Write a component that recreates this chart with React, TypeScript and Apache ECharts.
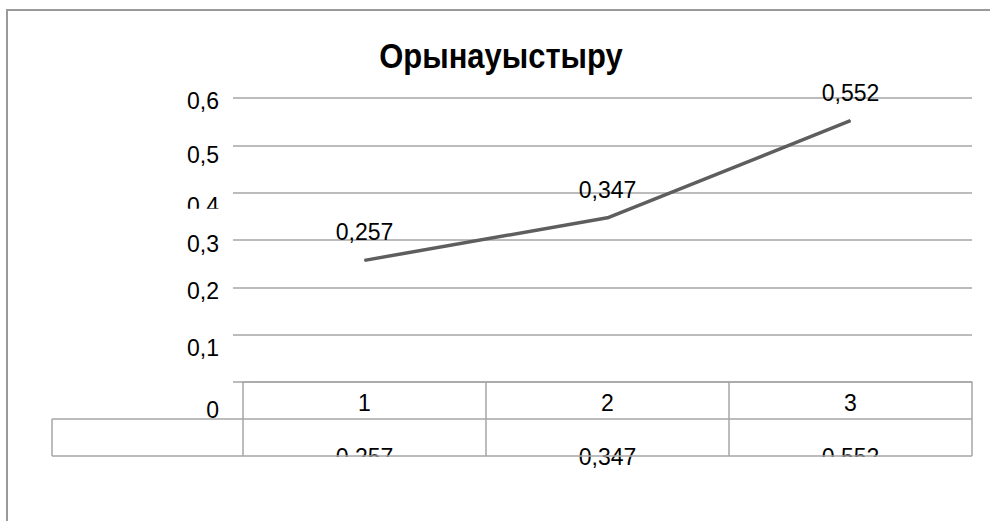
import React, { useEffect, useRef } from "react";
import * as echarts from "echarts";

const title = "Орынауыстыру";
const categories = ["1", "2", "3"];
const values = [0.257, 0.347, 0.552];
const yMin = 0;
const yMax = 0.6;
const yStep = 0.1;

// style-only settings
const FONT = "'Liberation Sans', Arial, sans-serif";
const LINE_GRAY = "#a6a6a6";
const labelShift: Record<string, number> = { "0": 28, "1": 13, "2": 4, "3": 4, "4": 13, "5": 10, "6": 3 };
const clippedCells = [true, false, true];

const fmt = (v: number) => String(Number(v.toFixed(3))).replace(".", ",");

export default function App() {
  const ref = useRef<HTMLDivElement>(null);
  useEffect(() => {
    if (!ref.current) return;
    const chart = echarts.init(ref.current, null, { renderer: "svg" });
    const rich: Record<string, any> = {};
    Object.keys(labelShift).forEach((k) => {
      rich["r" + k] = {
        fontSize: 23,
        fontFamily: FONT,
        color: "#000",
        padding: [labelShift[k] * 2, 0, 0, 0],
      };
    });
    const option: any = {
      animation: false,
      grid: { left: 243, right: 18, top: 98, bottom: 139 },
      xAxis: {
        type: "category",
        data: categories,
        boundaryGap: true,
        axisLine: { show: true, lineStyle: { color: LINE_GRAY, width: 1.5 } },
        axisTick: { show: false },
        axisLabel: { margin: 9, fontSize: 23, fontFamily: FONT, color: "#000" },
      },
      yAxis: {
        type: "value",
        min: yMin,
        max: yMax,
        interval: yStep,
        axisLine: { show: false },
        axisTick: { show: true, length: 10, lineStyle: { color: LINE_GRAY, width: 1.5 } },
        splitLine: { show: true, lineStyle: { color: LINE_GRAY, width: 1.5 } },
        axisLabel: {
          margin: 24,
          formatter: (v: number) => {
            const k = String(Math.round(v / yStep));
            return `{r${k}|${fmt(v)}}`;
          },
          rich,
        },
      },
      series: [
        {
          type: "line",
          data: values,
          symbol: "circle",
          symbolSize: 1,
          itemStyle: { color: "#5e5e5e" },
          lineStyle: { color: "#5e5e5e", width: 3.5 },
          label: {
            show: true,
            position: "top",
            distance: 16,
            fontSize: 23,
            fontFamily: FONT,
            color: "#000",
            formatter: (p: any) => fmt(p.value),
          },
        },
      ],
    };
    chart.setOption(option);

    const c0 = chart.convertToPixel({ xAxisIndex: 0 }, 0) as number;
    const c1 = chart.convertToPixel({ xAxisIndex: 0 }, 1) as number;
    const bw = c1 - c0;
    const yZero = chart.convertToPixel({ yAxisIndex: 0 }, 0) as number;
    const y4 = chart.convertToPixel({ yAxisIndex: 0 }, 0.4) as number;
    const rowH = 37;
    const tableLeft = 52;
    const bounds = categories.map((_, i) => c0 - bw / 2 + i * bw);
    bounds.push(c0 - bw / 2 + categories.length * bw);
    const right = bounds[bounds.length - 1];
    const ls = { stroke: LINE_GRAY, lineWidth: 1.5 };
    const g: any[] = [];
    // title (condensed look)
    g.push({
      type: "text",
      z: 10,
      x: 501,
      y: 56,
      scaleX: 0.86,
      style: { text: title, fontSize: 36, fontWeight: "bold", fontFamily: FONT, fill: "#000", align: "center", verticalAlign: "middle" },
    });
    // outer frame
    g.push({ type: "polyline", z: 10, shape: { points: [[990, 10], [7, 10], [7, 521]] }, style: { stroke: "#9a9a9a", lineWidth: 2, fill: "none" } });
    // table value texts
    values.forEach((v, i) => {
      g.push({
        type: "text",
        z: 10,
        x: c0 + i * bw,
        y: yZero + rowH * 2 + 1,
        style: { text: fmt(v), fontSize: 23, fontFamily: FONT, fill: "#000", align: "center", verticalAlign: "middle" },
      });
      if (clippedCells[i]) {
        g.push({
          type: "rect",
          z: 11,
          shape: { x: bounds[i] + 3, y: yZero + rowH * 2 + 1, width: bw - 6, height: 24 },
          style: { fill: "#fff" },
        });
      }
    });
    // mask for clipped 0,4 label
    g.push({ type: "rect", z: 11, shape: { x: 160, y: y4 + 16, width: 66, height: 12 }, style: { fill: "#fff" } });
    // table lines
    bounds.forEach((bx) => {
      g.push({ type: "line", z: 12, shape: { x1: bx, y1: yZero, x2: bx, y2: yZero + rowH * 2 }, style: ls });
    });
    g.push({ type: "line", z: 12, shape: { x1: tableLeft, y1: yZero + rowH, x2: right, y2: yZero + rowH }, style: ls });
    g.push({ type: "line", z: 12, shape: { x1: tableLeft, y1: yZero + rowH * 2, x2: right, y2: yZero + rowH * 2 }, style: ls });
    g.push({ type: "line", z: 12, shape: { x1: tableLeft, y1: yZero + rowH, x2: tableLeft, y2: yZero + rowH * 2 }, style: ls });
    chart.setOption({ graphic: g });

    return () => chart.dispose();
  }, []);
  return <div ref={ref} style={{ position: "fixed", left: 0, top: 0, width: 990, height: 521, background: "#fff" }} />;
}
